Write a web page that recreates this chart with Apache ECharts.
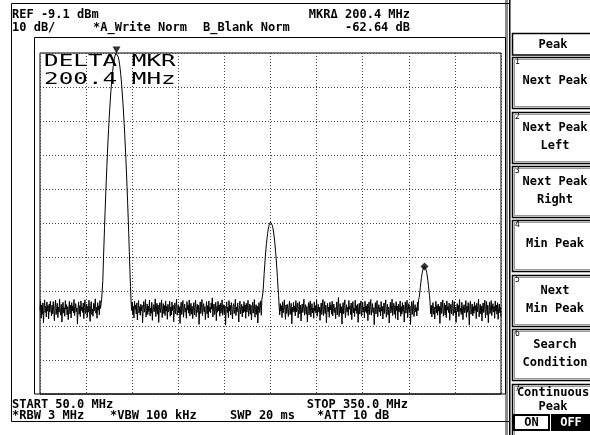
<!DOCTYPE html>
<html>
<head>
<meta charset="utf-8">
<script src="https://cdn.jsdelivr.net/npm/echarts@6/dist/echarts.min.js"></script>
<style>
html,body{margin:0;padding:0;background:#fff;}
#c{width:590px;height:435px;}
</style>
</head>
<body>
<div id="c"></div>
<script>
// ---- instrument settings ----
const START_MHZ = 50.0;
const STOP_MHZ = 350.0;
const REF_DBM = -9.1;
const DB_PER_DIV = 10;
const X_DIVS = 10;
const Y_DIVS = 10;

// ---- trace A levels (dBm), 801 sweep points from START to STOP ----
const levels = [
/*0*/   -84.6,-81.8,-86.9,-83.0,-85.7,-82.4,-88.3,-83.9,-81.5,-85.2,-83.4,-86.5,-82.1,-84.8,-83.2,-87.1,-82.7,-85.0,-81.9,-84.3,
/*20*/  -86.2,-83.1,-85.5,-82.0,-84.9,-87.6,-83.3,-81.6,-85.8,-84.0,-82.5,-86.7,-83.6,-85.1,-81.3,-84.5,-86.0,-82.8,-88.0,-83.7,
/*40*/  -82.2,-85.4,-83.8,-86.3,-81.7,-84.2,-82.9,-85.9,-83.5,-87.3,-84.1,-81.9,-85.6,-83.0,-86.8,-82.3,-84.7,-83.3,-85.3,-81.4,
/*60*/  -86.1,-84.4,-82.6,-85.0,-83.9,-88.6,-84.0,-82.1,-85.7,-83.2,-86.4,-81.8,-84.6,-83.6,-85.2,-82.4,-87.0,-83.8,-81.5,-85.5,
/*80*/  -84.3,-82.7,-86.6,-83.4,-85.1,-81.6,-84.9,-87.8,-83.1,-82.0,-85.8,-84.2,-86.3,-82.5,-84.8,-83.0,-81.2,-85.4,-83.7,-86.9,
/*100*/ -82.3,-84.5,-83.2,-85.9,-81.7,-84.0,-82.6,-81.3,-81.0,-75.9,-70.4,-65.2,-60.2,-55.4,-50.8,-46.5,-42.4,-38.6,-34.9,-31.6,
/*120*/ -28.4,-25.5,-22.9,-20.4,-18.2,-16.3,-14.6,-13.1,-11.8,-10.8,-10.0,-9.5,-9.2,-9.1,-9.3,-9.7,-10.3,-11.2,-12.3,-13.6,
/*140*/ -15.2,-17.0,-19.1,-21.4,-23.9,-26.7,-29.7,-32.9,-36.4,-40.1,-44.0,-48.2,-52.6,-57.2,-62.1,-67.3,-72.6,-77.5,-81.8,-84.6,
/*160*/ -82.1,-85.7,-83.4,-86.8,-81.9,-84.3,-83.0,-85.6,-82.4,-87.4,-84.1,-81.7,-85.3,-83.5,-86.0,-82.8,-84.7,-83.1,-88.2,-84.4,
/*180*/ -82.0,-85.1,-83.7,-81.4,-86.5,-84.6,-82.7,-85.8,-83.3,-84.9,-81.6,-86.2,-83.9,-85.4,-82.2,-87.5,-84.0,-82.9,-85.0,-83.6,
/*200*/ -81.2,-86.4,-84.2,-82.5,-85.7,-83.0,-88.1,-84.5,-82.3,-85.2,-83.8,-81.5,-86.7,-84.1,-82.6,-85.5,-83.2,-86.1,-81.8,-84.8,
/*220*/ -83.4,-87.2,-82.8,-85.0,-84.3,-81.9,-86.3,-83.6,-85.9,-82.1,-84.6,-83.1,-87.9,-84.4,-82.4,-85.6,-83.7,-81.3,-86.0,-84.7,
/*240*/ -82.9,-85.3,-83.5,-88.4,-84.0,-82.2,-85.8,-83.3,-81.7,-86.6,-84.2,-82.7,-85.1,-83.9,-86.9,-82.0,-84.5,-83.0,-85.4,-81.5,
/*260*/ -86.2,-84.8,-82.5,-85.7,-83.4,-87.0,-84.1,-82.3,-85.9,-83.8,-81.6,-86.4,-84.3,-82.8,-85.2,-83.1,-88.7,-84.6,-82.1,-85.5,
/*280*/ -83.7,-81.4,-86.1,-84.0,-82.6,-85.0,-83.5,-87.3,-84.4,-82.0,-85.6,-83.2,-86.8,-81.8,-84.9,-83.6,-85.3,-82.4,-84.2,-80.9,
/*300*/ -86.5,-83.9,-82.7,-85.8,-84.5,-82.2,-87.6,-83.4,-85.1,-81.9,-84.7,-83.0,-86.3,-82.5,-85.4,-83.8,-81.5,-86.0,-84.1,-82.9,
/*320*/ -85.7,-83.3,-88.9,-84.3,-82.1,-85.2,-83.6,-86.7,-81.7,-84.8,-83.1,-85.9,-82.3,-84.0,-87.1,-83.5,-82.6,-85.5,-84.4,-81.3,
/*340*/ -86.1,-83.7,-85.0,-82.4,-84.6,-88.0,-83.2,-81.9,-85.6,-84.2,-82.8,-86.5,-83.4,-85.3,-82.0,-84.9,-83.0,-86.9,-82.5,-85.1,
/*360*/ -83.8,-81.6,-86.3,-84.5,-82.7,-85.7,-83.1,-87.4,-84.0,-82.2,-85.4,-83.6,-81.4,-86.6,-84.3,-82.9,-85.8,-83.3,-88.3,-84.7,
/*380*/ -82.3,-85.2,-83.9,-81.8,-86.0,-81.5,-81.6,-79.2,-76.6,-73.8,-71.2,-68.9,-66.8,-65.0,-63.4,-62.0,-60.9,-60.0,-59.3,-58.9,
/*400*/ -58.7,-58.8,-59.0,-59.6,-60.3,-61.3,-62.5,-64.0,-65.7,-67.6,-69.8,-72.2,-74.9,-77.7,-80.2,-83.5,-85.9,-82.6,-84.8,-83.2,
/*420*/ -86.7,-82.1,-85.3,-83.9,-81.5,-84.6,-87.2,-83.0,-85.5,-82.8,-84.2,-86.4,-83.4,-81.9,-85.8,-84.0,-82.5,-88.5,-83.7,-85.1,
/*440*/ -82.2,-84.9,-83.3,-86.2,-81.7,-85.0,-83.8,-82.4,-86.8,-84.3,-82.0,-85.6,-83.1,-87.7,-84.5,-82.7,-85.2,-83.6,-81.3,-86.0,
/*460*/ -84.1,-82.9,-85.7,-83.5,-88.0,-84.4,-82.3,-85.9,-83.0,-81.8,-86.5,-84.7,-82.6,-85.3,-83.9,-86.9,-82.1,-84.8,-83.2,-85.4,
/*480*/ -81.6,-86.3,-84.0,-82.8,-85.1,-83.7,-87.5,-84.2,-82.4,-85.8,-83.4,-81.4,-86.1,-84.6,-82.0,-85.5,-83.1,-88.2,-84.9,-82.5,
/*500*/ -85.0,-83.6,-86.6,-82.2,-84.4,-83.0,-85.7,-81.9,-86.2,-84.1,-82.7,-85.2,-83.8,-87.0,-84.3,-82.1,-85.9,-83.3,-80.8,-86.4,
/*520*/ -84.5,-82.6,-85.4,-83.5,-88.6,-84.0,-82.3,-85.6,-83.1,-81.5,-86.7,-84.8,-82.9,-85.0,-83.7,-86.1,-81.7,-84.2,-83.4,-85.8,
/*540*/ -82.4,-87.3,-84.1,-82.0,-85.3,-83.9,-86.4,-81.6,-84.7,-83.2,-85.5,-82.8,-88.1,-84.4,-82.5,-85.7,-83.0,-81.8,-86.3,-84.6,
/*560*/ -82.2,-85.1,-83.6,-86.8,-81.9,-84.9,-83.3,-85.4,-82.7,-87.6,-84.0,-82.1,-85.8,-83.5,-81.4,-86.0,-84.3,-82.6,-85.2,-83.8,
/*580*/ -88.8,-84.5,-82.3,-85.6,-83.1,-81.7,-86.5,-84.2,-82.9,-85.0,-83.7,-86.2,-82.0,-84.8,-83.4,-87.1,-84.1,-82.4,-85.5,-83.0,
/*600*/ -81.5,-86.6,-84.4,-82.8,-85.9,-83.6,-88.3,-84.7,-82.2,-85.3,-83.9,-81.3,-86.1,-84.0,-82.5,-85.7,-83.2,-86.9,-82.0,-84.6,
/*620*/ -83.3,-87.4,-82.7,-85.1,-84.2,-81.8,-86.3,-83.5,-85.6,-82.3,-84.9,-83.0,-88.0,-84.5,-82.1,-85.4,-83.7,-81.6,-86.7,-84.3,
/*640*/ -82.6,-85.2,-83.4,-88.7,-84.1,-82.0,-85.8,-83.1,-81.7,-86.4,-84.6,-82.9,-85.0,-83.8,-86.2,-82.2,-84.7,-81.4,-80.8,-79.5,
/*660*/ -77.9,-76.3,-74.9,-73.8,-73.0,-72.3,-71.9,-71.7,-71.8,-72.1,-72.7,-73.4,-74.5,-75.7,-77.2,-78.9,-80.3,-82.4,-85.6,-83.1,
/*680*/ -86.5,-84.0,-82.3,-85.7,-83.6,-87.1,-84.4,-81.9,-85.3,-83.2,-86.0,-82.7,-84.8,-83.4,-88.4,-84.2,-82.1,-85.5,-83.8,-81.5,
/*700*/ -86.3,-84.7,-82.5,-85.9,-83.0,-86.7,-81.8,-84.5,-83.5,-85.2,-82.4,-87.5,-84.1,-82.8,-85.6,-83.3,-81.6,-86.1,-84.3,-82.0,
/*720*/ -85.4,-83.7,-88.1,-84.6,-82.6,-85.0,-83.1,-86.4,-81.4,-84.9,-83.9,-85.8,-82.2,-84.0,-87.3,-83.6,-82.9,-85.3,-84.2,-81.7,
/*740*/ -86.6,-83.4,-85.1,-82.3,-84.8,-88.9,-83.0,-81.9,-85.7,-84.4,-82.7,-86.2,-83.5,-85.4,-82.1,-84.6,-83.2,-87.0,-82.5,-85.0,
/*760*/ -83.8,-81.3,-86.5,-84.3,-82.8,-85.6,-83.3,-87.7,-84.0,-82.4,-85.2,-83.7,-81.6,-86.8,-84.5,-82.0,-85.9,-83.1,-88.2,-84.7,
/*780*/ -82.2,-85.5,-83.9,-81.7,-86.1,-84.2,-82.6,-85.0,-83.4,-86.9,-81.8,-84.8,-83.0,-85.7,-82.3,-87.2,-84.1,-82.7,-85.3,-83.6,
/*800*/ -86.4
];

// ---- markers: reference marker and delta marker ----
const markerFreqs = [99.8, 300.2];
const markerLevels = [-9.1, -71.74];
const markerSymbols = ['triangle', 'diamond'];

// ---- header / footer text ----
const headerLeft1 = 'REF -9.1 dBm';
const headerLeft2 = '10 dB/';
const traceA = '*A_Write Norm';
const traceB = 'B_Blank Norm';
const mkrLine1 = 'MKR\u0394 200.4 MHz';
const mkrLine2 = '-62.64 dB';
const startText = 'START 50.0 MHz';
const stopText = 'STOP 350.0 MHz';
const footerTexts = ['*RBW 3 MHz', '*VBW 100 kHz', 'SWP 20 ms', '*ATT 10 dB'];
const deltaText = ['DELTA MKR', '200.4 MHz'];

// ---- soft key menu ----
const menuTitle = 'Peak';
const menuKeys = [
  {n: '1', lines: ['Next Peak']},
  {n: '2', lines: ['Next Peak', 'Left']},
  {n: '3', lines: ['Next Peak', 'Right']},
  {n: '4', lines: ['Min Peak']},
  {n: '5', lines: ['Next', 'Min Peak']},
  {n: '6', lines: ['Search', 'Condition']},
  {n: '7', lines: ['Continuous', 'Peak']}
];
const toggleLabels = ['ON', 'OFF'];

// ---------------------------------------------------------------
const chart = echarts.init(document.getElementById('c'), null, {renderer: 'canvas'});
const span = STOP_MHZ - START_MHZ;
const step = span / (levels.length - 1);
const traceData = levels.map((v, i) => [i * step, v - REF_DBM]);
const markerData = markerFreqs.map((f, i) => ({
  value: [f - START_MHZ, markerLevels[i] - REF_DBM],
  symbol: markerSymbols[i],
  symbolRotate: markerSymbols[i] === 'triangle' ? 180 : 0,
  symbolSize: markerSymbols[i] === 'triangle' ? [8, 7] : 8,
  symbolOffset: markerSymbols[i] === 'triangle' ? [0, -3] : [0, 0]
}));

const MONO = '"DejaVu Sans Mono", "Liberation Mono", monospace';
const F12 = 'bold 12px ' + MONO;

function txt(x, y, s, opts) {
  opts = opts || {};
  return {
    type: 'text', x: x, y: y, silent: true,
    scaleX: opts.scaleX || 1, scaleY: opts.scaleY || 1,
    z: opts.z || 10,
    style: {
      text: s, font: opts.font || F12, fill: opts.fill || '#000',
      textAlign: opts.align || 'left', textVerticalAlign: 'middle'
    }
  };
}
function rect(x, y, w, h, style, z) {
  return {type: 'rect', silent: true, z: z || 5, shape: {x: x, y: y, width: w, height: h}, style: style};
}

const g = [];
// screen border
g.push(rect(11.5, 3.5, 498, 418, {fill: 'none', stroke: '#000', lineWidth: 1}));
// plot frame
g.push(rect(34.5, 37.5, 471, 356.5, {fill: 'none', stroke: '#000', lineWidth: 1}));
// right separator bars
g.push(rect(505, 0, 3, 435, {fill: '#8a8a8a'}, 4));
g.push(rect(509, 0, 1.5, 435, {fill: '#000'}, 4));

// header
g.push(txt(12, 15, headerLeft1));
g.push(txt(12, 27.5, headerLeft2));
g.push(txt(93, 27.5, traceA));
g.push(txt(203, 27.5, traceB));
g.push(txt(410, 15, mkrLine1, {align: 'right'}));
g.push(txt(410, 27.5, mkrLine2, {align: 'right'}));
// footer
g.push(txt(12, 405, startText));
g.push(txt(408, 405, stopText, {align: 'right'}));
g.push(txt(12, 416, footerTexts[0]));
g.push(txt(110, 416, footerTexts[1]));
g.push(txt(230, 416, footerTexts[2]));
g.push(txt(317, 416, footerTexts[3]));
// delta marker readout in the graticule
g.push(txt(44, 62, deltaText[0], {font: '15px ' + MONO, scaleX: 1.62, z: 20}));
g.push(txt(44, 80.5, deltaText[1], {font: '15px ' + MONO, scaleX: 1.62, z: 20}));

// soft key panel
g.push(rect(512.5, 33.5, 90, 21.5, {fill: '#fff', stroke: '#000', lineWidth: 1.5}));
g.push(txt(553, 45, menuTitle, {align: 'center'}));
const keyTops = [57, 112, 166, 220, 275, 329, 384];
const keyH = 51;
menuKeys.forEach((k, i) => {
  const top = keyTops[i];
  const h = i === menuKeys.length - 1 ? 60 : keyH;
  g.push(rect(512.5, top + 0.5, 90, h, {fill: '#fff', stroke: '#000', lineWidth: 1.5}));
  g.push(rect(514.5, top + 2.5, 90, h - 4, {fill: 'none', stroke: '#999', lineWidth: 1}));
  g.push(txt(515, top + 5, k.n, {font: '8px ' + MONO}));
  if (i === menuKeys.length - 1) {
    g.push(txt(553, top + 9, k.lines[0], {align: 'center'}));
    g.push(txt(553, top + 23, k.lines[1], {align: 'center'}));
  } else if (k.lines.length === 1) {
    g.push(txt(555, top + 24, k.lines[0], {align: 'center'}));
  } else {
    g.push(txt(555, top + 16, k.lines[0], {align: 'center'}));
    g.push(txt(555, top + 34, k.lines[1], {align: 'center'}));
  }
});
// ON / OFF toggle
g.push(rect(514, 415, 35, 15, {fill: '#fff', stroke: '#000', lineWidth: 2}, 8));
g.push(txt(531.5, 423, toggleLabels[0], {align: 'center'}));
g.push(rect(551, 414, 42, 17, {fill: '#000'}, 8));
g.push(txt(571, 423, toggleLabels[1], {align: 'center', fill: '#fff'}));

const option = {
  animation: false,
  backgroundColor: '#fff',
  grid: {left: 40, top: 53, width: 461, height: 341, show: true, borderColor: '#000', borderWidth: 1, backgroundColor: 'transparent'},
  xAxis: {
    type: 'value', min: 0, max: span, interval: span / X_DIVS,
    axisLine: {show: false}, axisTick: {show: false}, axisLabel: {show: false},
    splitLine: {show: true, lineStyle: {color: '#444', type: [1, 2], width: 1}}
  },
  yAxis: {
    type: 'value', min: -DB_PER_DIV * Y_DIVS, max: 0, interval: DB_PER_DIV,
    axisLine: {show: false}, axisTick: {show: false}, axisLabel: {show: false},
    splitLine: {show: true, lineStyle: {color: '#444', type: [1, 2], width: 1}}
  },
  series: [
    {
      type: 'line', data: traceData, showSymbol: false, symbol: 'none',
      lineStyle: {color: '#000', width: 1}, z: 3, silent: true, clip: true
    },
    {
      type: 'scatter', data: markerData, itemStyle: {color: '#000'}, z: 4, silent: true
    }
  ],
  graphic: g
};
chart.setOption(option);
</script>
</body>
</html>
